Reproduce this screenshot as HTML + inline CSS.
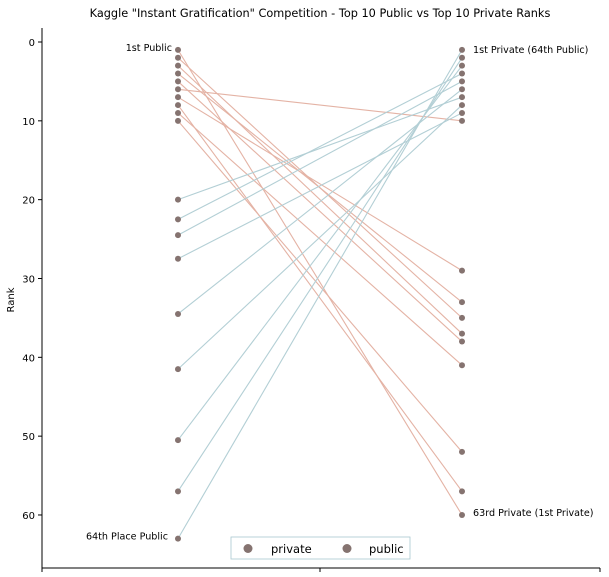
<!DOCTYPE html>
<html><head><meta charset="utf-8"><style>
body{margin:0;background:#fff;}
svg{display:block;font-family:"DejaVu Sans","Liberation Sans",sans-serif;}
</style></head><body>
<svg id="chart" width="609" height="577">
<text x="320" y="17" text-anchor="middle" font-size="11.3" fill="#000">Kaggle "Instant Gratification" Competition - Top 10 Public vs Top 10 Private Ranks</text>
<text transform="translate(14,300) rotate(-90)" text-anchor="middle" font-size="10" fill="#000">Rank</text>
<g id="axes"></g>
<g id="lines"></g>
<g id="points"></g>
<g id="labels" font-size="9.6" fill="#000"></g>
<g>
<rect x="231" y="537" width="179" height="22" fill="#fff" stroke="#a9c8cf" stroke-width="0.8"/>
<circle cx="248" cy="548.5" r="4.5" fill="#857370"/>
<text x="271" y="553" font-size="11.5">private</text>
<circle cx="347" cy="548.5" r="4.5" fill="#857370"/>
<text x="369" y="553" font-size="11.5">public</text>
</g>
</svg>
<script>
const yTicks=[0,10,20,30,40,50,60];
const orangePublic=[1,2,3,4,5,6,7,8,9,10];
const orangePrivate=[60,35,37,33,38,10,29,57,41,52];
const bluePublic=[63,57,50.5,41.5,34.5,27.5,24.5,22.5,20];
const bluePrivate=[1,2,3,8,6,9,5,4,7];
const NS="http://www.w3.org/2000/svg";
const y=v=>42+v*7.883;
const xL=178,xR=462;
function mk(tag,attrs,parent){const e=document.createElementNS(NS,tag);for(const k in attrs)e.setAttribute(k,attrs[k]);parent.appendChild(e);return e;}
const axes=document.getElementById('axes');
let e=mk('line',{x1:42,y1:28,x2:42,y2:568,stroke:'#000','stroke-width':1},axes);


e=mk('line',{x1:42,y1:568,x2:600,y2:568,stroke:'#000','stroke-width':1},axes);


[42,320,600].forEach(x=>{mk('line',{x1:x,y1:568,x2:x,y2:572,stroke:'#000'},axes);});
yTicks.forEach(t=>{
 mk('line',{x1:38,y1:y(t),x2:42,y2:y(t),stroke:'#000'},axes);
 const tx=mk('text',{x:35,y:y(t)+4,'text-anchor':'end','font-size':'10'},axes);
 tx.textContent=t;
 
 
});
const lines=document.getElementById('lines'),pts=document.getElementById('points');
orangePublic.forEach((p,i)=>{
 const l=mk('line',{x1:xL,y1:y(p),x2:xR,y2:y(orangePrivate[i]),stroke:'#e4b3a5','stroke-width':1.1},lines);
 
 
});
bluePublic.forEach((p,i)=>{
 const l=mk('line',{x1:xL,y1:y(p),x2:xR,y2:y(bluePrivate[i]),stroke:'#b3cfd5','stroke-width':1.1},lines);
 
 
});
orangePublic.concat(bluePublic).forEach(p=>{
 const c=mk('circle',{cx:xL,cy:y(p),r:3,fill:'#857370'},pts);
 
 
});
orangePrivate.concat(bluePrivate).forEach(p=>{
 const c=mk('circle',{cx:xR,cy:y(p),r:3,fill:'#857370'},pts);
 
 
});
const lab=document.getElementById('labels');
function label(x,yy,txt,anchor,name){const t=mk('text',{x:x,y:yy,'text-anchor':anchor},lab);t.textContent=txt;
 
 }
label(172,y(1)+1,'1st Public','end','first-public-label');
label(168,y(63)+1,'64th Place Public','end','64th-public-label');
label(473,y(1)+3,'1st Private (64th Public)','start','first-private-label');
label(473,y(60)+1,'63rd Private (1st Private)','start','63rd-private-label');
</script>
</body></html>
